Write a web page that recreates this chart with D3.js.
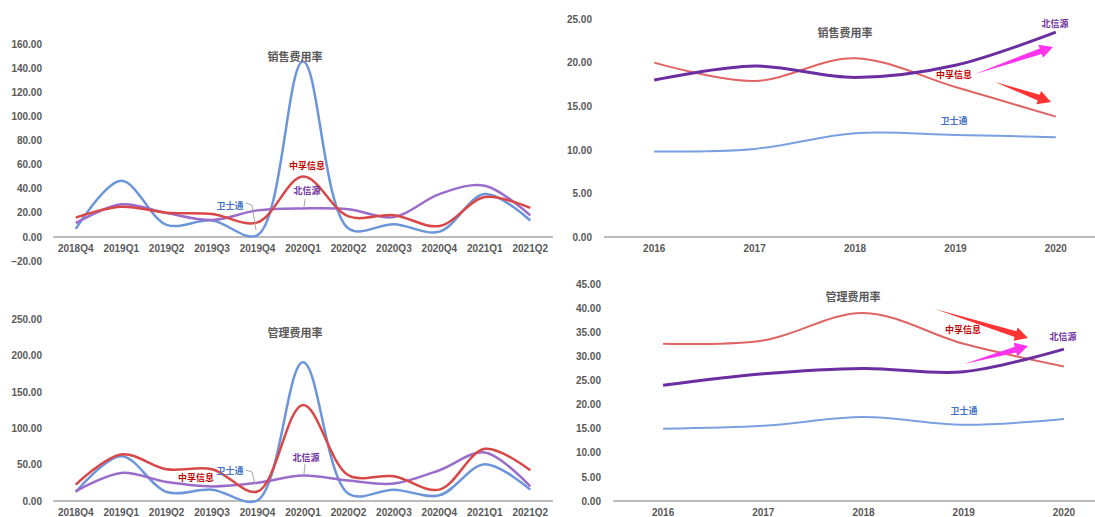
<!DOCTYPE html>
<html lang="zh">
<head>
<meta charset="UTF-8" />
<title>费用率对比</title>
<script src="https://d3js.org/d3.v7.min.js"></script>
<style>
  body { margin: 0; background: #fff; }
  svg { display: block; font-family: "Open Sans", "Noto Sans CJK SC", sans-serif; }
  .tick text { font-size: 10px; font-weight: 700; fill: #595959; }
  .title { font-size: 11px; font-weight: 700; fill: #595959; }
  .lbl { font-size: 9px; font-weight: 700; }
</style>
</head>
<body>
<svg id="chart" width="1095" height="517"></svg>
<script>
// quarterly
const quarters = ["2018Q4","2019Q1","2019Q2","2019Q3","2019Q4","2020Q1","2020Q2","2020Q3","2020Q4","2021Q1","2021Q2"];
const saleWst = [6.7, 46.5, 10, 13.6, 1.5, 145.5, 7, 10.5, 4.4, 35.5, 13.6];
const saleZf  = [16, 25, 20, 19, 12, 50, 17, 18, 9, 33, 24];
const saleBxy = [11.4, 27, 19.7, 14, 22, 23.6, 23, 16.4, 35.5, 42.5, 17.8];
const mgmtWst = [12.4, 61.6, 12.4, 15.6, 1, 190.7, 10, 15.6, 7.8, 50.5, 15.6];
const mgmtZf  = [22.5, 64, 43.7, 43.7, 13, 132, 35.4, 34, 15.6, 71.7, 42.3];
const mgmtBxy = [13.3, 38.6, 26, 20, 25, 35, 28, 24, 42.3, 66.6, 20];
// yearly
const years = ["2016","2017","2018","2019","2020"];
const ySaleWst = [9.8, 10.1, 11.9, 11.7, 11.45];
const ySaleZf  = [20.0, 17.9, 20.5, 17.2, 13.8];
const ySaleBxy = [18.0, 19.6, 18.3, 19.7, 23.5];
const yMgmtWst = [15.0, 15.6, 17.4, 15.8, 17.0];
const yMgmtZf  = [32.6, 33.3, 39.0, 32.6, 27.9];
const yMgmtBxy = [24.0, 26.4, 27.5, 26.8, 31.5];
// tick labels
const saleTicks = [-20, 0, 20, 40, 60, 80, 100, 120, 140, 160];
const mgmtTicks = [0, 50, 100, 150, 200, 250];
const ySaleTicks = [0, 5, 10, 15, 20, 25];
const yMgmtTicks = [0, 5, 10, 15, 20, 25, 30, 35, 40, 45];

const svg = d3.select("#chart");
const fmt = d3.format(".2f");

function panel(p) {
  const g = svg.append("g");
  const x = d3.scaleBand().domain(p.cats).range(p.xr);
  const y = d3.scaleLinear().domain(p.yd).range(p.yr);
  const cx = d => x(d) + x.bandwidth() / 2;

  g.append("g")
    .attr("transform", `translate(${p.yAxisX},0)`)
    .call(d3.axisLeft(y).tickValues(p.ticks).tickFormat(fmt).tickSize(0).tickPadding(3))
    .call(a => a.select(".domain").remove());

  g.append("line")
    .attr("x1", p.xr[0]).attr("x2", p.xr[1])
    .attr("y1", y(0)).attr("y2", y(0))
    .attr("stroke", "#a6a6a6").attr("stroke-width", 1.5);

  g.append("g")
    .attr("transform", `translate(0,${y(0)})`)
    .call(d3.axisBottom(x).tickSize(0).tickPadding(8))
    .call(a => a.select(".domain").remove());

  const line = d3.line()
    .x((d, i) => cx(p.cats[i]))
    .y(d => y(d))
    .curve(d3.curveCatmullRom.alpha(0.5));

  p.series.forEach(s => {
    g.append("path")
      .attr("d", line(s.values))
      .attr("fill", "none")
      .attr("stroke", s.color)
      .attr("stroke-width", s.width)
      .attr("stroke-linejoin", "round");
  });

  g.append("text").attr("class", "title")
    .attr("x", p.title[1]).attr("y", p.title[2])
    .attr("text-anchor", "middle").attr("dominant-baseline", "central")
    .text(p.title[0]);

  (p.leaders || []).forEach(pts => {
    g.append("polyline")
      .attr("points", pts.map(q => q.join(",")).join(" "))
      .attr("fill", "none").attr("stroke", "#a6a6a6").attr("stroke-width", 1);
  });

  p.labels.forEach(l => {
    g.append("text").attr("class", "lbl")
      .attr("x", l[1]).attr("y", l[2])
      .attr("text-anchor", "middle").attr("dominant-baseline", "central")
      .attr("fill", l[3])
      .text(l[0]);
  });

  (p.arrows || []).forEach(a => drawArrow(g, a[0], a[1], a[2]));
}

function drawArrow(g, from, to, color) {
  const dx = to[0] - from[0], dy = to[1] - from[1];
  const len = Math.hypot(dx, dy);
  const ux = dx / len, uy = dy / len, nx = -uy, ny = ux;
  const headL = 13, headW = 7, shaftW = 3;
  const bx = to[0] - ux * headL, by = to[1] - uy * headL;
  const pts = [
    [from[0], from[1]],
    [bx + nx * shaftW, by + ny * shaftW],
    [bx + nx * headW, by + ny * headW],
    [to[0], to[1]],
    [bx - nx * headW, by - ny * headW],
    [bx - nx * shaftW, by - ny * shaftW]
  ];
  g.append("polygon")
    .attr("points", pts.map(q => q.join(",")).join(" "))
    .attr("fill", color);
}

const cBlueL = "#6d95da", cRedL = "#d94848", cPurL = "#9a6dcb";
const cBlueR = "#7ba0e0", cRedR = "#e06464", cPurR = "#6a2ea0";
const tBlue = "#4472c4", tRed = "#c00000", tPur = "#7030a0";

panel({
  cats: quarters, xr: [53, 553], yd: [-20, 160], yr: [261, 44], ticks: saleTicks, yAxisX: 45,
  series: [
    { values: saleWst, color: cBlueL, width: 2.5 },
    { values: saleBxy, color: cPurL, width: 2.5 },
    { values: saleZf, color: cRedL, width: 2.5 }
  ],
  title: ["销售费用率", 295, 56],
  labels: [["中孚信息", 307, 165, tRed], ["北信源", 307, 190, tPur], ["卫士通", 230, 205, tBlue]],
  leaders: [[[246, 203], [252, 205], [256, 230]], [[305, 199], [304, 207]]]
});

panel({
  cats: quarters, xr: [53, 553], yd: [0, 250], yr: [501, 319], ticks: mgmtTicks, yAxisX: 45,
  series: [
    { values: mgmtWst, color: cBlueL, width: 2.5 },
    { values: mgmtBxy, color: cPurL, width: 2.5 },
    { values: mgmtZf, color: cRedL, width: 2.5 }
  ],
  title: ["管理费用率", 295, 332],
  labels: [["北信源", 306, 457, tPur], ["卫士通", 230, 470, tBlue], ["中孚信息", 196, 477, tRed]],
  leaders: [[[246, 470], [252, 472], [255, 484]], [[305, 464], [304, 474]]]
});

panel({
  cats: years, xr: [604, 1106], yd: [0, 25], yr: [237, 19], ticks: ySaleTicks, yAxisX: 595,
  series: [
    { values: ySaleWst, color: cBlueR, width: 2 },
    { values: ySaleZf, color: cRedR, width: 2 },
    { values: ySaleBxy, color: cPurR, width: 3 }
  ],
  title: ["销售费用率", 845, 32],
  labels: [["北信源", 1055, 23, tPur], ["中孚信息", 954, 74, tRed], ["卫士通", 954, 120, tBlue]],
  arrows: [[[975, 74], [1053, 47], "#ff33ee"], [[995, 82], [1051, 102], "#ff3333"]]
});

panel({
  cats: years, xr: [613, 1114], yd: [0, 45], yr: [501, 284], ticks: yMgmtTicks, yAxisX: 604,
  series: [
    { values: yMgmtWst, color: cBlueR, width: 2 },
    { values: yMgmtZf, color: cRedR, width: 2 },
    { values: yMgmtBxy, color: cPurR, width: 3 }
  ],
  title: ["管理费用率", 853, 296],
  labels: [["中孚信息", 963, 329, tRed], ["北信源", 1063, 336, tPur], ["卫士通", 964, 410, tBlue]],
  arrows: [[[935, 309], [1028, 338], "#ff3333"], [[964, 364], [1028, 346], "#ff33ee"]]
});
</script>
</body>
</html>
